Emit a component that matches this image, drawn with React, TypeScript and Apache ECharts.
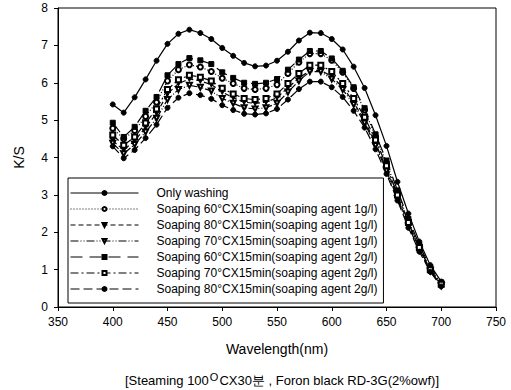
import React, { useEffect, useRef } from "react";
import * as echarts from "echarts";

const wavelengths = [400, 410, 420, 430, 440, 450, 460, 470, 480, 490, 500, 510, 520, 530, 540, 550, 560, 570, 580, 590, 600, 610, 620, 630, 640, 650, 660, 670, 680, 690, 700];

const seriesNames = [
  "Only washing",
  "Soaping 60°CX15min(soaping agent 1g/l)",
  "Soaping 80°CX15min(soaping agent 1g/l)",
  "Soaping 70°CX15min(soaping agent 1g/l)",
  "Soaping 60°CX15min(soaping agent 2g/l)",
  "Soaping 70°CX15min(soaping agent 2g/l)",
  "Soaping 80°CX15min(soaping agent 2g/l)",
];

const onlyWashing = [5.42, 5.2, 5.61, 6.09, 6.59, 7.04, 7.31, 7.42, 7.33, 7.17, 6.93, 6.72, 6.53, 6.44, 6.46, 6.59, 6.83, 7.13, 7.34, 7.33, 7.17, 6.89, 6.43, 5.86, 5.13, 4.31, 3.35, 2.5, 1.75, 1.12, 0.68];
const soap60_1 = [4.78, 4.5, 4.72, 5.1, 5.48, 6.05, 6.35, 6.48, 6.42, 6.3, 6.12, 5.98, 5.85, 5.82, 5.85, 5.95, 6.25, 6.55, 6.78, 6.78, 6.6, 6.28, 5.85, 5.27, 4.56, 3.86, 3.06, 2.31, 1.62, 1.02, 0.63];
const soap80_1 = [4.45, 4.2, 4.45, 4.8, 5.18, 5.7, 5.98, 6.1, 6.05, 5.95, 5.75, 5.6, 5.48, 5.45, 5.48, 5.6, 5.87, 6.12, 6.33, 6.33, 6.17, 5.88, 5.48, 4.98, 4.38, 3.7, 2.95, 2.22, 1.56, 0.98, 0.59];
const soap70_1 = [4.38, 4.1, 4.35, 4.68, 5.05, 5.55, 5.82, 5.93, 5.88, 5.78, 5.58, 5.45, 5.33, 5.3, 5.33, 5.45, 5.75, 6.05, 6.3, 6.3, 6.1, 5.82, 5.42, 4.92, 4.32, 3.64, 2.9, 2.17, 1.52, 0.96, 0.57];
const soap60_2 = [4.93, 4.55, 4.82, 5.25, 5.62, 6.2, 6.5, 6.66, 6.6, 6.5, 6.28, 6.13, 6.0, 5.97, 6.0, 6.1, 6.35, 6.62, 6.85, 6.85, 6.65, 6.32, 5.88, 5.32, 4.62, 3.92, 3.12, 2.36, 1.66, 1.06, 0.66];
const soap70_2 = [4.6, 4.33, 4.55, 4.92, 5.3, 5.82, 6.08, 6.2, 6.15, 6.05, 5.85, 5.7, 5.58, 5.55, 5.58, 5.7, 5.98, 6.25, 6.47, 6.47, 6.3, 5.98, 5.58, 5.08, 4.47, 3.78, 3.0, 2.26, 1.59, 1.0, 0.61];
const soap80_2 = [4.3, 3.98, 4.2, 4.52, 4.88, 5.33, 5.6, 5.72, 5.67, 5.57, 5.4, 5.27, 5.17, 5.15, 5.18, 5.3, 5.55, 5.83, 6.03, 6.03, 5.88, 5.62, 5.25, 4.8, 4.22, 3.56, 2.85, 2.12, 1.48, 0.94, 0.55];

const seriesValues = [onlyWashing, soap60_1, soap80_1, soap70_1, soap60_2, soap70_2, soap80_2];

const symbols = ["circle", "emptyCircle", "triangle", "emptyTriangle", "rect", "emptyRect", "circle"];
const rotations = [0, 0, 180, 180, 0, 0, 0];
const dashes: any[] = ["solid", [1, 2], [5, 3], [8, 2, 1, 2, 1, 2], [12, 7], [8, 3, 2, 3], [9, 4]];

const FONT = "Liberation Sans, Arial, sans-serif";

export default function App() {
  const ref = useRef<HTMLDivElement>(null);
  useEffect(() => {
    if (!ref.current) return;
    const chart = echarts.init(ref.current, null, { renderer: "svg" });
    const series = seriesNames.map((name, i) => ({
      name,
      type: "line",
      data: wavelengths.map((w, j) => [w, seriesValues[i][j]]),
      symbol: symbols[i],
      symbolRotate: rotations[i],
      symbolSize: 5,
      showAllSymbol: true,
      lineStyle: { color: "#000", width: 1.2, type: dashes[i] },
      itemStyle: { color: "#000", borderColor: "#000", borderWidth: 1 },
      z: 2,
    }));
    chart.setOption({
      animation: false,
      backgroundColor: "#fff",
      grid: { left: 58, right: 15, top: 8, bottom: 83, show: true, borderColor: "#000", borderWidth: 1 },
      xAxis: {
        type: "value",
        min: 350,
        max: 750,
        interval: 50,
        name: "Wavelength(nm)",
        nameLocation: "middle",
        nameGap: 35,
        nameTextStyle: { fontFamily: FONT, fontSize: 14, color: "#000" },
        axisLine: { lineStyle: { color: "#000", width: 1 } },
        axisTick: { inside: false, length: 4, lineStyle: { color: "#000" } },
        axisLabel: { fontFamily: FONT, fontSize: 12, color: "#000", margin: 9 },
        splitLine: { show: false },
      },
      yAxis: {
        type: "value",
        min: 0,
        max: 8,
        interval: 1,
        name: "K/S",
        nameLocation: "middle",
        nameGap: 32,
        nameTextStyle: { fontFamily: FONT, fontSize: 14, color: "#000" },
        axisLine: { show: true, lineStyle: { color: "#000", width: 1 } },
        axisTick: { show: true, inside: false, length: 4, lineStyle: { color: "#000" } },
        axisLabel: { fontFamily: FONT, fontSize: 12, color: "#000", margin: 10 },
        splitLine: { show: false },
      },
      legend: {
        orient: "vertical",
        left: 68,
        top: 178,
        width: 320,
        padding: [8, 6, 7, 2],
        backgroundColor: "#fff",
        borderColor: "#000",
        borderWidth: 1,
        itemWidth: 68,
        itemHeight: 5,
        itemGap: 2,
        lineStyle: { width: 1 },
        textStyle: { fontFamily: FONT, fontSize: 12, color: "#000", lineHeight: 14, padding: [0, 0, 0, 13] },
        data: seriesNames,
        z: 10,
      },
      graphic: [
        {
          type: "text",
          left: 125,
          top: 371,
          style: {
            text: "[Steaming 100{sup|O}CX30분 , Foron black RD-3G(2%owf)]",
            fontFamily: FONT,
            fontSize: 13,
            fill: "#000",
            rich: {
              sup: { fontSize: 11, verticalAlign: "top", padding: [0, 1, 8, 1], fontFamily: FONT },
            },
          },
        },
      ],
      series,
    });
    return () => chart.dispose();
  }, []);
  return <div ref={ref} style={{ position: "fixed", left: 0, top: 0, width: 511, height: 390 }} />;
}
